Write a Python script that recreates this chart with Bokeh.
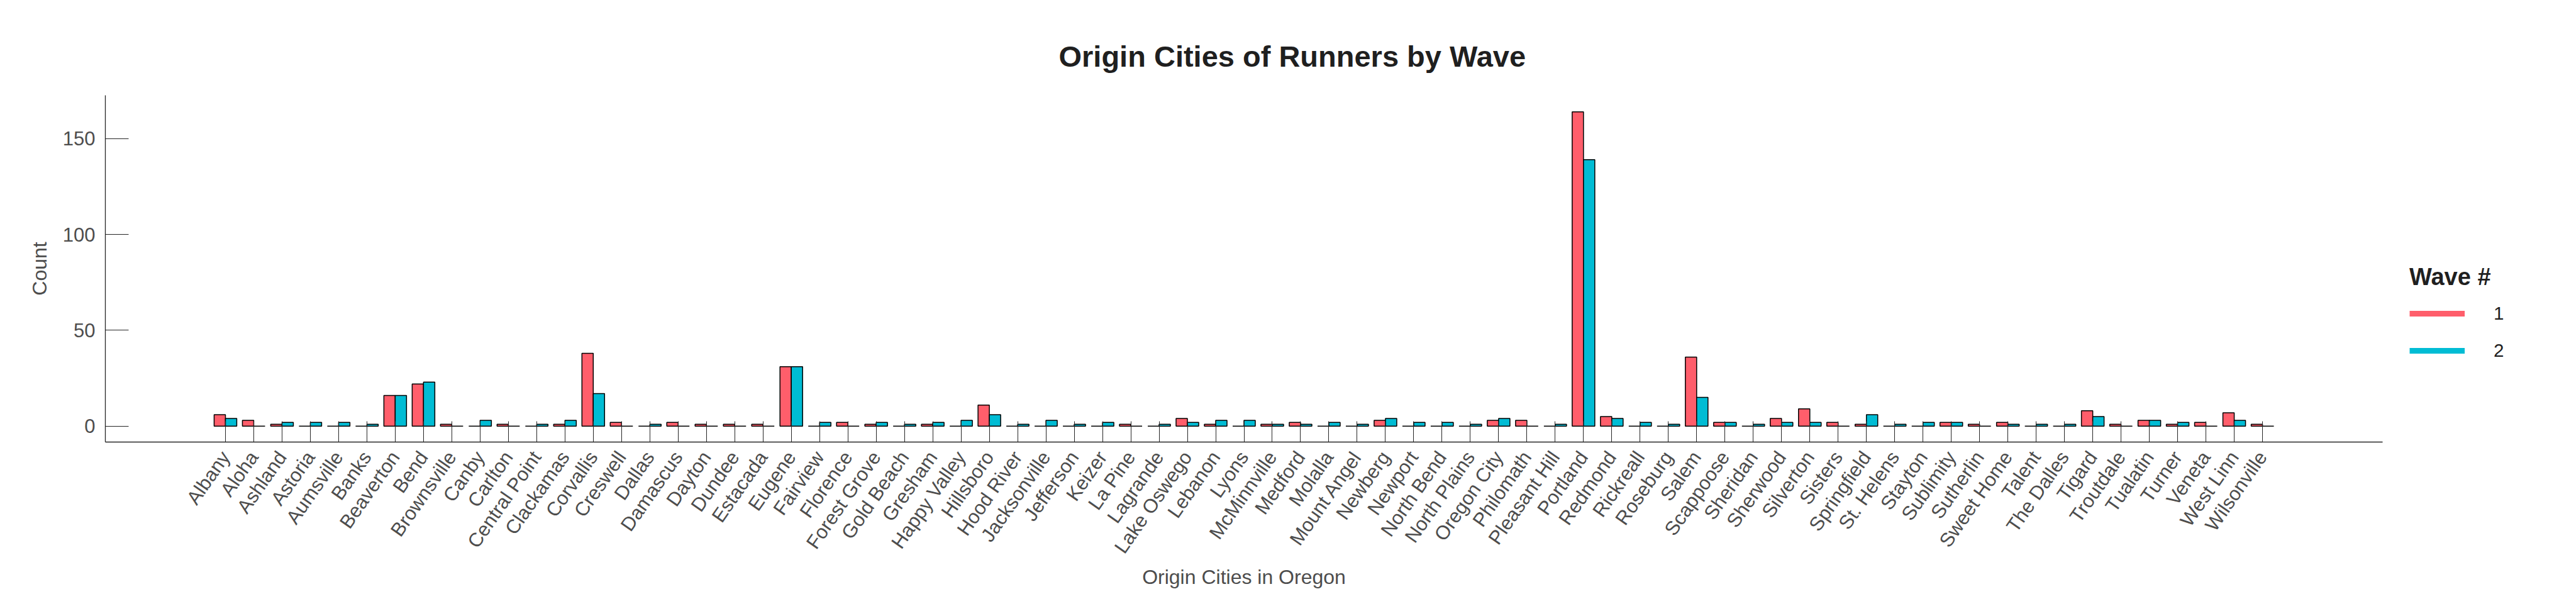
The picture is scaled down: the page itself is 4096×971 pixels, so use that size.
import math
from bokeh.plotting import figure
from bokeh.layouts import row
from bokeh.models import ColumnDataSource, FactorRange, FixedTicker, Legend, LegendItem, Range1d
from bokeh.transform import dodge
from bokeh.embed import file_html
from bokeh.resources import INLINE

cities = ["Albany", "Aloha", "Ashland", "Astoria", "Aumsville", "Banks", "Beaverton", "Bend",
          "Brownsville", "Canby", "Carlton", "Central Point", "Clackamas", "Corvallis", "Creswell",
          "Dallas", "Damascus", "Dayton", "Dundee", "Estacada", "Eugene", "Fairview", "Florence",
          "Forest Grove", "Gold Beach", "Gresham", "Happy Valley", "Hillsboro", "Hood River",
          "Jacksonville", "Jefferson", "Keizer", "La Pine", "Lagrande", "Lake Oswego", "Lebanon",
          "Lyons", "McMinnville", "Medford", "Molalla", "Mount Angel", "Newberg", "Newport",
          "North Bend", "North Plains", "Oregon City", "Philomath", "Pleasant Hill", "Portland",
          "Redmond", "Rickreall", "Roseburg", "Salem", "Scappoose", "Sheridan", "Sherwood",
          "Silverton", "Sisters", "Springfield", "St. Helens", "Stayton", "Sublimity", "Sutherlin",
          "Sweet Home", "Talent", "The Dalles", "Tigard", "Troutdale", "Tualatin", "Turner",
          "Veneta", "West Linn", "Wilsonville"]

wave1 = [6, 3, 1, 0, 0, 0, 16, 22, 1, 0,
         1, 0, 1, 38, 2, 0, 2, 1, 1, 1,
         31, 0, 2, 1, 0, 1, 0, 11, 0, 0,
         0, 0, 1, 0, 4, 1, 0, 1, 2, 0,
         0, 3, 0, 0, 0, 3, 3, 0, 164, 5,
         0, 0, 36, 2, 0, 4, 9, 2, 1, 0,
         0, 2, 1, 2, 0, 0, 8, 1, 3, 1,
         2, 7, 1]

wave2 = [4, 0, 2, 2, 2, 1, 16, 23, 0, 3,
         0, 1, 3, 17, 0, 1, 0, 0, 0, 0,
         31, 2, 0, 2, 1, 2, 3, 6, 1, 3,
         1, 2, 0, 1, 2, 3, 3, 1, 1, 2,
         1, 4, 2, 2, 1, 4, 0, 1, 139, 4,
         2, 1, 15, 2, 1, 2, 2, 0, 6, 1,
         2, 2, 0, 1, 1, 1, 5, 0, 3, 2,
         0, 3, 0]

y_ticks = [0, 50, 100, 150]
wave_labels = ["1", "2"]

RED = "#FF5E6B"
BLUE = "#00BCD4"
AXIS = "#262626"
TXT = "#4D4D4D"
FONT = "Liberation Sans"

source = ColumnDataSource(dict(city=cities, w1=wave1, w2=wave2))

p = figure(width=3800, height=955,
           x_range=FactorRange(factors=cities, range_padding=3.745, range_padding_units="absolute"),
           y_range=Range1d(-8.3, 172.6),
           output_backend="svg", toolbar_location=None,
           min_border_left=167, min_border_right=12, min_border_top=151, min_border_bottom=253)

p.title.text = "Origin Cities of Runners by Wave"
p.title.text_font = FONT
p.title.text_font_size = "47px"
p.title.text_font_style = "bold"
p.title.text_color = "#1F1F1F"
p.title.align = "left"
p.title.offset = 1516
p.title.standoff = 71

p.outline_line_color = None
p.xgrid.visible = False
p.ygrid.visible = False
p.background_fill_color = "white"
p.border_fill_color = "white"

p.vbar(x=dodge("city", -0.2, range=p.x_range), top="w1", width=0.4, source=source,
       fill_color=RED, line_color="black", line_width=1.5)
p.vbar(x=dodge("city", 0.2, range=p.x_range), top="w2", width=0.4, source=source,
       fill_color=BLUE, line_color="black", line_width=1.5)

for ax in (p.xaxis[0], p.yaxis[0]):
    ax.axis_line_color = AXIS
    ax.axis_line_width = 1.3
    ax.major_tick_line_color = AXIS
    ax.major_tick_line_width = 1
    ax.major_tick_out = 0
    ax.minor_tick_line_color = None
    ax.major_label_text_font = FONT
    ax.major_label_text_font_size = "31px"
    ax.major_label_text_color = TXT
    ax.axis_label_text_font = FONT
    ax.axis_label_text_font_size = "32px"
    ax.axis_label_text_font_style = "normal"
    ax.axis_label_text_color = TXT

p.xaxis.major_tick_in = 33
p.xaxis.major_label_orientation = math.radians(55)
p.xaxis.major_label_standoff = 18
p.xaxis.axis_label = "Origin Cities in Oregon"
p.xaxis.axis_label_standoff = 0

p.yaxis.major_tick_in = 37
p.yaxis.ticker = FixedTicker(ticks=y_ticks)
p.yaxis.major_label_standoff = 16
p.yaxis.axis_label = "Count"
p.yaxis.axis_label_standoff = 16

# legend panel to the right of the axes (its frame is aligned with the main frame)
lg = figure(width=280, height=955, x_range=Range1d(0, 1), y_range=Range1d(0, 1),
            x_axis_type=None, y_axis_type=None, output_backend="svg", toolbar_location=None,
            min_border_left=0, min_border_right=0, min_border_top=0, min_border_bottom=0)
lg.outline_line_color = None
lg.background_fill_color = "white"
lg.border_fill_color = "white"
l1 = lg.line(x=[0], y=[0], line_color=RED, line_width=9)
l2 = lg.line(x=[0], y=[0], line_color=BLUE, line_width=9)

legend = Legend(items=[LegendItem(label=wave_labels[0], renderers=[l1]),
                       LegendItem(label=wave_labels[1], renderers=[l2])],
                title="Wave #", location=(31, 125),
                title_text_font=FONT, title_text_font_size="38px", title_text_font_style="bold",
                title_text_color="#1F1F1F", title_standoff=16,
                label_text_font=FONT, label_text_font_size="29.5px", label_text_color="#1F1F1F",
                label_standoff=46, glyph_width=88, glyph_height=40, label_height=40,
                spacing=19, padding=0, margin=0,
                border_line_color=None, background_fill_alpha=0)
lg.add_layout(legend)

layout = row(p, lg)
open("out.html", "w").write(file_html(layout, INLINE))
